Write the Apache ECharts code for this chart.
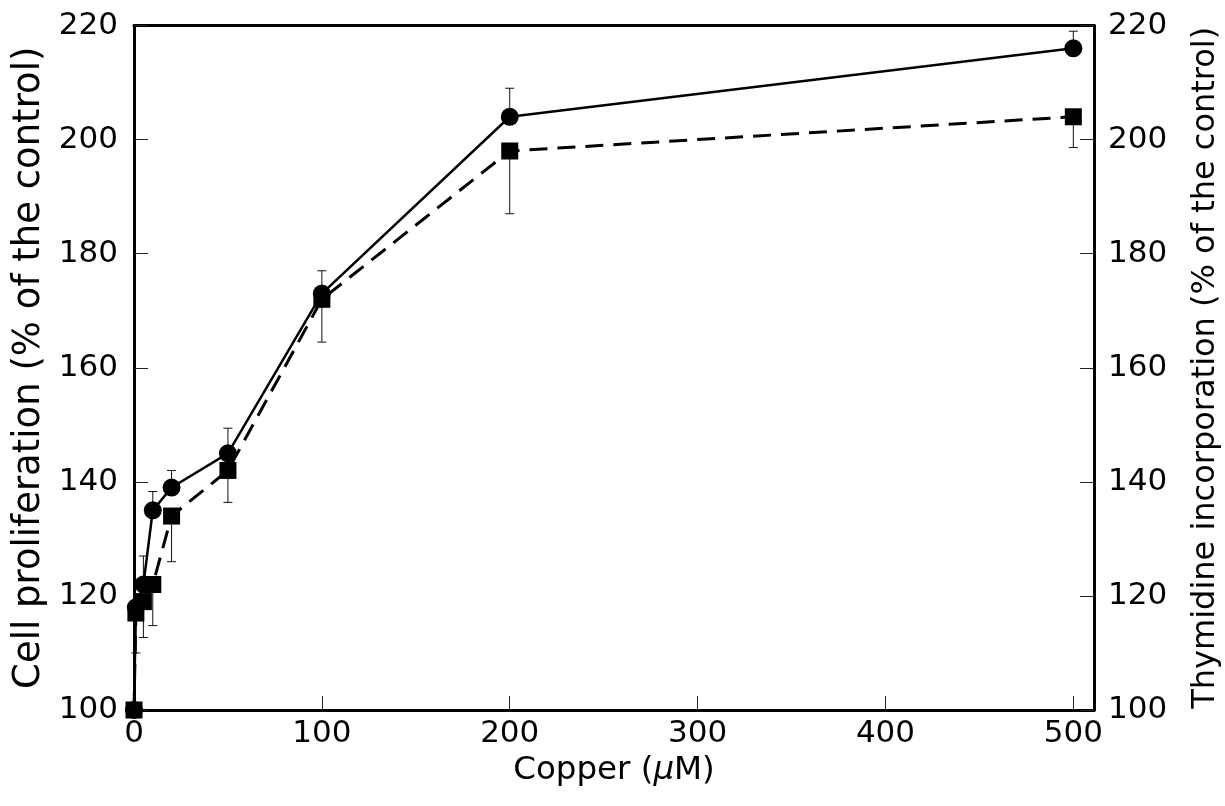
<!DOCTYPE html>
<html><head><meta charset="utf-8">
<script src="https://cdn.jsdelivr.net/npm/echarts@6/dist/echarts.min.js"></script>
<style>html,body{margin:0;padding:0;background:#fff}#c{width:1225px;height:806px}</style>
</head><body><div id="c"></div>
<script>
const copper = [0, 1, 5, 10, 20, 50, 100, 200, 500];
const cellProliferation = [100, 118, 122, 135, 139, 145, 173, 204, 216];
const cellProlifErrTop = [null, null, 127, 138.3, 142, 149.4, 177, 209, 219];
const thymidine = [100, 117, 119, 122, 134, 142, 172, 198, 204];
const thymidineErrBottom = [null, 110, 112.7, 114.8, 126, 136.4, 164.5, 187, 198.6];
const xTicks = [0, 100, 200, 300, 400, 500];
const yMin = 100, yMax = 220, yStep = 20;

const FONT = 'DejaVu Sans';
const FS = 31;

function pairs(xs, ys) { return xs.map((x, i) => [x, ys[i]]); }
function errData(xs, ys, es) {
  const out = [];
  xs.forEach((x, i) => { if (es[i] != null) out.push([x, ys[i], es[i]]); });
  return out;
}
function errItem(params, api) {
  const x = api.value(0), v = api.value(1), e = api.value(2);
  const p0 = api.coord([x, v]), p1 = api.coord([x, e]);
  const w = 4.5;
  return { type: 'group', children: [
    { type: 'line', shape: { x1: p0[0], y1: p0[1], x2: p1[0], y2: p1[1] }, style: { stroke: '#111', lineWidth: 1 } },
    { type: 'line', shape: { x1: p1[0] - w, y1: p1[1], x2: p1[0] + w, y2: p1[1] }, style: { stroke: '#111', lineWidth: 1 } }
  ]};
}

const chart = echarts.init(document.getElementById('c'), null, { renderer: 'canvas' });
function axisLine() { return { show: true, onZero: false, lineStyle: { color: '#000', width: 3 } }; }
function tick(extra) { return Object.assign({ show: true, inside: true, length: 14, lineStyle: { color: '#222', width: 1 } }, extra || {}); }
function labelStyle(extra) { return Object.assign({ color: '#000', fontFamily: FONT, fontSize: FS }, extra || {}); }

chart.setOption({
  animation: false,
  backgroundColor: '#fff',
  grid: { left: 134, right: 131, top: 25.5, bottom: 96, containLabel: false, outerBoundsMode: 'none' },
  xAxis: [{
    type: 'value', min: 0, max: 511, position: 'bottom',
    name: 'Copper ({i|µ}M)', nameLocation: 'middle', nameGap: 40,
    nameTextStyle: { color: '#000', fontFamily: FONT, fontSize: 32.5,
      rich: { i: { fontStyle: 'italic', fontFamily: FONT, fontSize: 32.5, color: '#000' } } },
    axisLine: axisLine(),
    axisTick: tick({ customValues: xTicks }),
    axisLabel: labelStyle({ customValues: xTicks, margin: 8 }),
    splitLine: { show: false }
  }, {
    type: 'value', min: 0, max: 511, position: 'top',
    axisLine: axisLine(), axisTick: { show: false }, axisLabel: { show: false }, splitLine: { show: false }
  }],
  yAxis: [{
    type: 'value', min: yMin, max: yMax, interval: yStep, position: 'left',
    name: 'Cell proliferation (% of the control)', nameLocation: 'middle', nameGap: 86,
    nameTextStyle: { color: '#000', fontFamily: FONT, fontSize: 37 },
    axisLine: axisLine(), axisTick: tick({ inside: false, length: -14 }),
    axisLabel: labelStyle({ margin: 16 }),
    splitLine: { show: false }
  }, {
    type: 'value', min: yMin, max: yMax, interval: yStep, position: 'right',
    name: 'Thymidine incorporation (% of the control)', nameLocation: 'middle', nameGap: 96,
    nameRotate: 90,
    nameTextStyle: { color: '#000', fontFamily: FONT, fontSize: 32 },
    axisLine: axisLine(), axisTick: tick({ inside: false, length: -14 }),
    axisLabel: labelStyle({ margin: 14 }),
    splitLine: { show: false }
  }],
  series: [
    { type: 'custom', name: 'thymErr', renderItem: errItem, encode: { x: 0, y: [1, 2] },
      data: errData(copper, thymidine, thymidineErrBottom), z: 1, clip: false },
    { type: 'custom', name: 'cellErr', renderItem: errItem, encode: { x: 0, y: [1, 2] },
      data: errData(copper, cellProliferation, cellProlifErrTop), z: 1, clip: false },
    { type: 'line', name: 'Thymidine incorporation', yAxisIndex: 1,
      data: pairs(copper, thymidine), symbol: 'rect', symbolSize: 17, showAllSymbol: true,
      itemStyle: { color: '#000' }, lineStyle: { color: '#000', width: 3, type: [18, 10] }, z: 3 },
    { type: 'line', name: 'Cell proliferation',
      data: pairs(copper, cellProliferation), symbol: 'circle', symbolSize: 18, showAllSymbol: true,
      itemStyle: { color: '#000' }, lineStyle: { color: '#000', width: 2.5 }, z: 4 }
  ]
});
</script></body></html>
